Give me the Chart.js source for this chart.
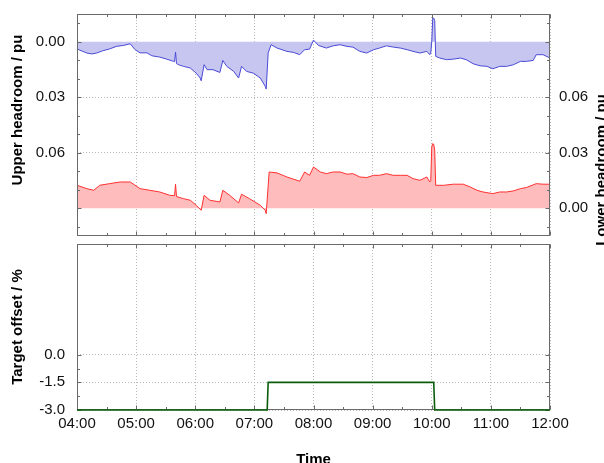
<!DOCTYPE html>
<html><head><meta charset="utf-8">
<script src="https://cdn.jsdelivr.net/npm/chart.js@4.4.1/dist/chart.umd.min.js"></script>
<style>
html,body{margin:0;padding:0;background:#fff;overflow:hidden;width:604px;height:463px}
#topChart{position:absolute;left:0;top:0;z-index:2}
#botChart{position:absolute;left:0;top:240px;z-index:1}
</style></head><body>
<canvas id="topChart" width="604" height="270"></canvas>
<canvas id="botChart" width="604" height="230"></canvas>
<script>
// ---------------- data ----------------
const upperTimes = ["04:00","04:10","04:15","04:20","04:26","04:33","04:40","04:47","04:54","04:59","05:04","05:11","05:16","05:24","05:31","05:38","05:39","05:40","05:41","05:43","05:48","05:55","06:01","06:05","06:06","06:09","06:12","06:18","06:25","06:28","06:32","06:39","06:44","06:47","06:52","06:59","07:06","07:11","07:12","07:14","07:17","07:23","07:33","07:40","07:46","07:51","07:56","08:00","08:05","08:13","08:20","08:27","08:34","08:40","08:47","08:54","09:01","09:07","09:14","09:21","09:28","09:35","09:41","09:48","09:55","09:58","09:59","10:00","10:01","10:02","10:03","10:04","10:08","10:15","10:22","10:29","10:35","10:42","10:49","10:56","11:02","11:09","11:16","11:23","11:30","11:36","11:43","11:46","11:53","12:00"];
const upperValues = [0.0039,0.0061,0.0066,0.0061,0.0049,0.0039,0.0025,0.0020,0.0011,0.0043,0.0060,0.0060,0.0076,0.0083,0.0094,0.0106,0.0108,0.0056,0.0118,0.0124,0.0133,0.0142,0.0170,0.0196,0.0211,0.0124,0.0151,0.0151,0.0166,0.0101,0.0133,0.0160,0.0196,0.0133,0.0160,0.0170,0.0196,0.0241,0.0256,0.0060,0.0016,0.0034,0.0052,0.0058,0.0070,0.0043,0.0040,-0.0009,0.0020,0.0034,0.0022,0.0016,0.0025,0.0029,0.0052,0.0061,0.0043,0.0034,0.0022,0.0029,0.0034,0.0043,0.0052,0.0061,0.0052,0.0070,0.0060,0.0000,-0.0128,-0.0128,-0.0115,0.0079,0.0088,0.0097,0.0094,0.0088,0.0097,0.0119,0.0130,0.0133,0.0146,0.0133,0.0133,0.0124,0.0106,0.0106,0.0101,0.0070,0.0070,0.0088];
const lowerTimes = ["04:00","04:10","04:17","04:23","04:33","04:44","04:54","05:04","05:14","05:24","05:34","05:39","05:40","05:41","05:48","05:55","06:01","06:06","06:09","06:15","06:25","06:28","06:35","06:44","06:47","06:55","07:06","07:11","07:12","07:15","07:23","07:33","07:46","07:51","07:56","08:00","08:07","08:13","08:20","08:27","08:34","08:40","08:47","08:54","09:01","09:07","09:14","09:21","09:28","09:35","09:41","09:48","09:55","09:58","09:59","10:00","10:01","10:02","10:03","10:04","10:12","10:22","10:32","10:39","10:46","10:52","11:02","11:09","11:16","11:23","11:30","11:36","11:46","11:53","12:00"];
const lowerValues = [0.0124,0.0106,0.0097,0.0124,0.0133,0.0142,0.0142,0.0106,0.0097,0.0088,0.0070,0.0068,0.0130,0.0063,0.0052,0.0043,0.0016,-0.0011,0.0070,0.0043,0.0034,0.0097,0.0070,0.0029,0.0076,0.0052,0.0016,-0.0011,-0.0029,0.0196,0.0191,0.0169,0.0146,0.0196,0.0178,0.0223,0.0196,0.0187,0.0196,0.0196,0.0184,0.0187,0.0169,0.0166,0.0178,0.0178,0.0187,0.0178,0.0178,0.0178,0.0160,0.0151,0.0169,0.0142,0.0150,0.0331,0.0350,0.0345,0.0314,0.0124,0.0124,0.0130,0.0130,0.0115,0.0097,0.0088,0.0079,0.0088,0.0088,0.0094,0.0106,0.0112,0.0133,0.0130,0.0130];
const offsetTimes = ["04:00","07:13","07:14","10:02","10:03","12:00"];
const offsetValues = [-3.0,-3.0,-1.5,-1.5,-3.0,-3.0];
const hourTicks = ["04:00","05:00","06:00","07:00","08:00","09:00","10:00","11:00","12:00"];
const headroomTickLabels = [0.00,0.03,0.06];
const offsetTickLabels = [-3.0,-1.5,0.0];

// ---------------- helpers ----------------
const FONT = '"Liberation Sans", Arial, sans-serif';
const toMin = s => { const [h,m] = s.split(':').map(Number); return h*60+m-240; };
const fmt = v => { const t = Math.round(v)+240; const h = Math.floor(t/60), m = t%60; return String(h).padStart(2,'0')+':'+String(m).padStart(2,'0'); };
const pts = (ts, vs) => ts.map((t,i) => ({x: toMin(t), y: vs[i]}));
const xMin = toMin(hourTicks[0]), xMax = toMin(hourTicks[hourTicks.length-1]);

function frameTicks(opts) {
  const draw = (chart) => {
    const {ctx, chartArea: a} = chart;
    const xs = chart.scales.x;
    ctx.save();
    ctx.strokeStyle = '#6a6a6a'; ctx.lineWidth = 1;
    const L = Math.round(a.left)+0.5, R = Math.round(a.right)-0.5, T = Math.round(a.top)+0.5, B = Math.round(a.bottom)-0.5;
    ctx.beginPath();
    for (let m = xMin; m <= xMax; m += 30) {
      const px = Math.round(xs.getPixelForValue(m))+0.5;
      const len = (m % 60 === 0) ? 4 : 2.5;
      ctx.moveTo(px, T); ctx.lineTo(px, T+len);
      ctx.moveTo(px, B); ctx.lineTo(px, B-len);
    }
    opts.yTicks.forEach(t => {
      const py = Math.round(chart.scales[t.axis].getPixelForValue(t.v))+0.5;
      const len = t.major ? 4 : 2.5;
      if (t.side !== 'right') { ctx.moveTo(L, py); ctx.lineTo(L+len, py); }
      if (t.side !== 'left') { ctx.moveTo(R, py); ctx.lineTo(R-len, py); }
    });
    ctx.stroke();
    ctx.strokeRect(L, T, R-L, B-T);
    ctx.restore();
  };
  return opts.onTop ? {id:'frameTicks', afterDatasetsDraw: draw} : {id:'frameTicks', beforeDatasetsDraw: draw};
}

const sideTitles = {
  id: 'sideTitles',
  afterDraw(chart) {
    const ctx = chart.ctx;
    ctx.save();
    ctx.font = 'bold 15px ' + FONT;
    ctx.fillStyle = '#000';
    ctx.textAlign = 'center'; ctx.textBaseline = 'middle';
    [['Upper headroom / pu', 18, 110], ['Lower headroom / pu', 602, 170]].forEach(([t,x,y]) => {
      ctx.save(); ctx.translate(x, y); ctx.rotate(-Math.PI/2); ctx.fillText(t, 0, 0); ctx.restore();
    });
    ctx.restore();
  }
};

const GRID = '#b8b8b8';
const gridX = {color:GRID, lineWidth:1, drawTicks:false};
const gridTopY = {color: c => (c.tick && c.tick.value === 0) ? 'rgba(0,0,0,0)' : GRID, lineWidth:1, drawTicks:false};
const dotted = {display:false, dash:[1,2]};
const setTicks = vals => (scale) => { scale.ticks = vals.map(v => ({value: v})); };
const noPad = s => { s.paddingTop = 0; s.paddingBottom = 0; s.paddingLeft = 0; s.paddingRight = 0; };

const topYTicks = [];
for (let i = -1; i <= 10; i++) {
  const v = i/100;
  topYTicks.push({axis:'y', v, major: i % 3 === 0, side:'left'});
  topYTicks.push({axis:'y2', v, major: i % 3 === 0, side:'right'});
}
const botYTicks = [-3,-2.25,-1.5,-0.75,0].map(v => ({axis:'y', v, major: v % 1.5 === 0, side:'both'}));

// ---------------- top chart ----------------
new Chart(document.getElementById('topChart'), {
  type: 'line',
  data: { datasets: [
    { data: pts(upperTimes, upperValues), yAxisID: 'y', borderColor:'#4a4ad6', borderWidth:1,
      backgroundColor:'#c6c6f0', fill:{value:0}, pointRadius:0, tension:0 },
    { data: pts(lowerTimes, lowerValues), yAxisID: 'y2', borderColor:'#ff3030', borderWidth:1,
      backgroundColor:'#ffbcbc', fill:{value:0}, pointRadius:0, tension:0 }
  ]},
  options: {
    responsive:false, animation:false, events:[],
    layout:{padding:{top:14, left:0, right:0, bottom:30}},
    plugins:{legend:{display:false}, tooltip:{enabled:false}},
    scales: {
      x: { type:'linear', min:xMin, max:xMax, position:'bottom',
           afterBuildTicks: setTicks(hourTicks.map(toMin)),
           ticks:{display:false}, grid:gridX, border:dotted,
           afterFit: s => { s.height = 4; noPad(s); } },
      y: { type:'linear', position:'left', reverse:true, min:-0.015, max:0.105,
           afterBuildTicks: setTicks(headroomTickLabels),
           ticks:{padding:12, color:'#111', font:{family:FONT, size:15}, callback: v => v.toFixed(2)},
           grid:gridTopY, border:dotted,
           afterFit: s => { s.width = 77; noPad(s); } },
      y2:{ type:'linear', position:'right', min:-0.015, max:0.105,
           afterBuildTicks: setTicks(headroomTickLabels),
           ticks:{padding:9, color:'#111', font:{family:FONT, size:15}, callback: v => v.toFixed(2)},
           grid:{display:false, drawTicks:false}, border:{display:false},
           afterFit: s => { s.width = 54; noPad(s); } }
    }
  },
  plugins: [frameTicks({onTop:true, yTicks:topYTicks}), sideTitles]
});

// ---------------- bottom chart ----------------
new Chart(document.getElementById('botChart'), {
  type: 'line',
  data: { datasets: [
    { data: pts(offsetTimes, offsetValues), borderColor:'#0b5e0b', borderWidth:1.6,
      fill:false, pointRadius:0, tension:0, clip:false }
  ]},
  options: {
    responsive:false, animation:false, events:[],
    layout:{padding:{top:4, left:0, right:54, bottom:0}},
    plugins:{legend:{display:false}, tooltip:{enabled:false}},
    scales: {
      x: { type:'linear', min:xMin, max:xMax, position:'bottom',
           afterBuildTicks: setTicks(hourTicks.map(toMin)),
           ticks:{padding:5, color:'#111', font:{family:FONT, size:15}, callback: v => fmt(v), maxRotation:0, autoSkip:false},
           grid:gridX, border:dotted,
           title:{display:true, text:'Time', color:'#000', font:{family:FONT, size:15, weight:'bold'}, padding:{top:0, bottom:1.5}},
           afterFit: s => { s.height = 60; noPad(s); } },
      y: { type:'linear', position:'left', min:-3, max:6,
           afterBuildTicks: setTicks(offsetTickLabels),
           ticks:{padding:12, color:'#111', font:{family:FONT, size:15}, callback: v => v.toFixed(1)},
           grid:gridX, border:dotted,
           title:{display:true, text:'Target offset / %', color:'#000', font:{family:FONT, size:15, weight:'bold'}, padding:{top:9, bottom:0}},
           afterFit: s => { s.width = 77; noPad(s); } }
    }
  },
  plugins: [frameTicks({onTop:false, yTicks:botYTicks})]
});
</script>
</body></html>
